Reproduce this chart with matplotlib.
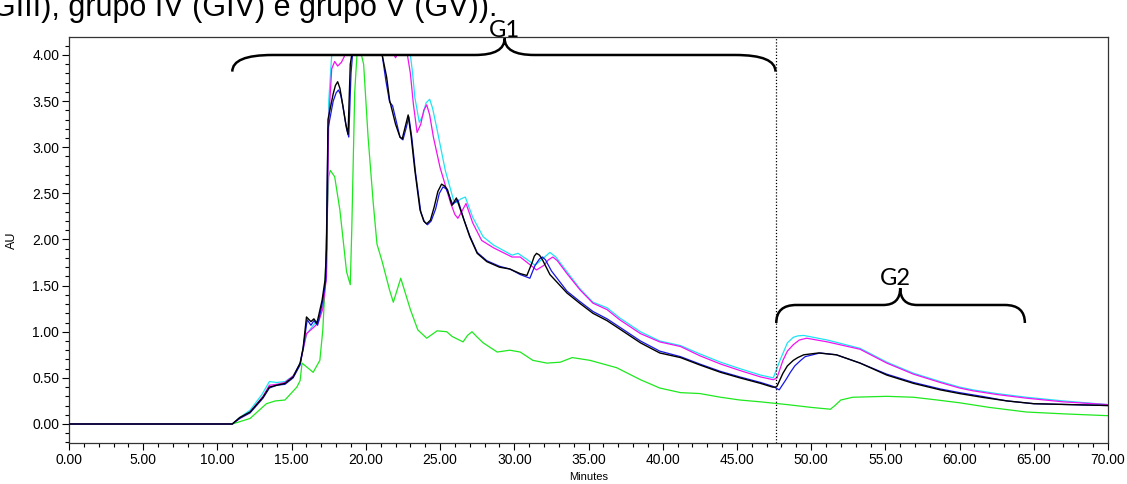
#!/usr/bin/env python3

# Import special modules ...
import matplotlib
matplotlib.use("Agg")
import matplotlib.pyplot
import matplotlib.path
import matplotlib.patches
import matplotlib.ticker
import numpy

# ******************************************************************************

t_black = [0.0, 11.0, 11.5, 12.2, 13.07, 13.5, 14.0, 14.55, 15.1, 15.57, 15.77, 16.0, 16.3, 16.5, 16.7, 17.05, 17.25, 17.35, 17.45, 17.8, 17.95, 18.1, 18.25, 18.4, 18.65, 18.8, 18.95, 19.05, 21.1, 21.4, 21.6, 22.0, 22.3, 22.45, 22.65, 22.85, 23.05, 23.3, 23.65, 23.9, 24.1, 24.35, 24.6, 24.85, 25.1, 25.3, 25.5, 25.8, 26.1, 26.55, 27.0, 27.5, 28.15, 29.0, 29.7, 30.4, 30.85, 31.2, 31.35, 31.5, 31.7, 31.9, 32.4, 33.55, 34.4, 35.3, 36.25, 37.1, 38.5, 39.8, 41.2, 42.5, 43.9, 45.2, 46.6, 47.4, 47.6, 47.7, 48.1, 48.4, 48.8, 49.1, 49.5, 50.5, 51.7, 53.3, 55.1, 56.9, 58.7, 60.0, 61.5, 63.2, 65.0, 67.5, 70.0]
au_black = [0.0, 0.0, 0.07, 0.13, 0.29, 0.40, 0.42, 0.44, 0.51, 0.66, 0.82, 1.16, 1.11, 1.14, 1.09, 1.34, 1.56, 1.9, 3.3, 3.58, 3.67, 3.71, 3.64, 3.5, 3.25, 3.14, 3.9, 4.0, 4.0, 3.76, 3.51, 3.25, 3.11, 3.09, 3.22, 3.35, 3.12, 2.75, 2.32, 2.2, 2.17, 2.21, 2.35, 2.52, 2.60, 2.58, 2.54, 2.37, 2.45, 2.24, 2.03, 1.85, 1.76, 1.70, 1.68, 1.63, 1.61, 1.75, 1.82, 1.85, 1.83, 1.78, 1.62, 1.42, 1.31, 1.20, 1.12, 1.03, 0.88, 0.77, 0.72, 0.64, 0.56, 0.50, 0.44, 0.40, 0.40, 0.41, 0.55, 0.63, 0.69, 0.72, 0.75, 0.77, 0.75, 0.66, 0.53, 0.44, 0.37, 0.33, 0.29, 0.25, 0.22, 0.21, 0.20]

t_blue = [0.0, 11.0, 11.5, 12.2, 13.07, 13.5, 14.0, 14.55, 15.1, 15.57, 15.8, 16.05, 16.3, 16.5, 16.75, 17.05, 17.3, 17.45, 17.8, 18.0, 18.15, 18.3, 18.45, 18.7, 18.85, 19.0, 19.1, 21.1, 21.35, 21.6, 21.8, 22.3, 22.5, 22.7, 22.9, 23.1, 23.35, 23.7, 23.95, 24.15, 24.4, 24.7, 24.95, 25.2, 25.4, 25.55, 25.85, 26.2, 26.6, 27.0, 27.5, 28.15, 29.0, 29.7, 30.4, 31.05, 31.4, 31.7, 31.9, 32.1, 32.5, 33.55, 34.4, 35.3, 36.25, 37.1, 38.5, 39.8, 41.2, 42.5, 43.9, 45.2, 46.6, 47.4, 47.85, 48.3, 48.6, 48.9, 49.3, 49.6, 50.6, 51.7, 53.3, 55.1, 56.9, 58.7, 60.0, 61.5, 63.2, 65.0, 67.5, 70.0]
au_blue = [0.0, 0.0, 0.06, 0.12, 0.28, 0.39, 0.42, 0.43, 0.50, 0.64, 0.85, 1.13, 1.07, 1.12, 1.07, 1.30, 1.55, 3.2, 3.5, 3.59, 3.62, 3.57, 3.45, 3.2, 3.11, 3.8, 4.0, 4.0, 3.72, 3.49, 3.45, 3.11, 3.08, 3.2, 3.33, 3.1, 2.72, 2.30, 2.19, 2.16, 2.2, 2.33, 2.5, 2.57, 2.55, 2.50, 2.38, 2.43, 2.22, 2.04, 1.86, 1.77, 1.71, 1.68, 1.62, 1.58, 1.72, 1.79, 1.81, 1.78, 1.66, 1.44, 1.33, 1.22, 1.14, 1.05, 0.90, 0.79, 0.73, 0.65, 0.57, 0.51, 0.45, 0.41, 0.37, 0.48, 0.56, 0.63, 0.69, 0.73, 0.77, 0.75, 0.66, 0.54, 0.45, 0.38, 0.34, 0.30, 0.25, 0.22, 0.21, 0.20]

t_magenta = [0.0, 11.0, 11.5, 12.2, 13.07, 13.5, 14.0, 14.55, 15.1, 15.57, 16.0, 16.5, 16.8, 17.1, 17.35, 17.5, 17.7, 17.9, 18.1, 18.35, 18.6, 21.9, 22.0, 22.1, 22.8, 23.0, 23.2, 23.45, 23.7, 23.9, 24.1, 24.3, 24.55, 25.0, 25.7, 26.0, 26.2, 26.45, 26.75, 27.2, 27.8, 28.6, 29.85, 30.4, 30.95, 31.5, 32.0, 32.3, 32.6, 32.9, 33.55, 34.45, 35.3, 36.25, 37.1, 38.5, 39.8, 41.2, 42.5, 43.9, 45.2, 46.6, 47.45, 47.7, 48.1, 48.4, 48.8, 49.2, 49.7, 51.1, 53.3, 55.1, 56.9, 58.7, 60.0, 60.9, 62.5, 64.5, 67.0, 70.0]
au_magenta = [0.0, 0.0, 0.06, 0.13, 0.30, 0.42, 0.43, 0.45, 0.52, 0.65, 0.98, 1.05, 1.10, 1.25, 1.6, 3.3, 3.85, 3.93, 3.88, 3.92, 4.0, 4.0, 3.97, 4.0, 4.0, 3.8, 3.47, 3.16, 3.25, 3.4, 3.46, 3.35, 3.11, 2.78, 2.40, 2.27, 2.23, 2.3, 2.39, 2.18, 1.99, 1.91, 1.81, 1.81, 1.74, 1.67, 1.72, 1.78, 1.81, 1.77, 1.63, 1.45, 1.31, 1.24, 1.13, 0.98, 0.89, 0.84, 0.74, 0.65, 0.58, 0.51, 0.48, 0.50, 0.69, 0.79, 0.86, 0.91, 0.93, 0.89, 0.81, 0.66, 0.54, 0.45, 0.39, 0.36, 0.32, 0.28, 0.24, 0.21]

t_cyan = [0.0, 11.0, 11.5, 12.2, 13.0, 13.5, 14.0, 14.55, 15.1, 15.57, 16.0, 16.5, 16.8, 17.1, 17.35, 17.5, 17.7, 23.0, 23.15, 23.3, 23.6, 23.85, 24.05, 24.3, 24.5, 24.8, 25.35, 25.9, 26.1, 26.4, 26.7, 27.2, 27.9, 28.6, 29.85, 30.25, 30.8, 31.4, 31.9, 32.4, 32.8, 33.55, 34.4, 35.3, 36.25, 37.1, 38.5, 39.8, 41.2, 42.5, 43.9, 45.2, 46.6, 47.45, 47.9, 48.4, 48.8, 49.1, 49.5, 51.1, 53.3, 55.1, 56.9, 58.7, 60.0, 60.9, 62.5, 64.5, 67.0, 70.0]
au_cyan = [0.0, 0.0, 0.07, 0.15, 0.32, 0.46, 0.45, 0.46, 0.52, 0.66, 0.97, 1.08, 1.13, 1.28, 1.7, 3.5, 4.0, 4.0, 3.8, 3.54, 3.27, 3.35, 3.48, 3.52, 3.42, 3.19, 2.75, 2.43, 2.40, 2.44, 2.46, 2.24, 2.03, 1.94, 1.83, 1.85, 1.79, 1.72, 1.79, 1.86, 1.81, 1.65, 1.47, 1.32, 1.26, 1.15, 1.00, 0.90, 0.85, 0.76, 0.67, 0.60, 0.53, 0.50, 0.69, 0.88, 0.94, 0.955, 0.96, 0.91, 0.82, 0.67, 0.55, 0.46, 0.40, 0.37, 0.33, 0.29, 0.25, 0.21]

t_green = [0.0, 11.0, 12.2, 13.3, 13.9, 14.55, 15.35, 15.57, 15.7, 16.0, 16.45, 16.9, 17.1, 17.25, 17.4, 17.5, 17.6, 17.9, 18.25, 18.5, 18.7, 18.95, 19.05, 19.25, 19.4, 19.7, 19.85, 20.15, 20.5, 20.75, 21.1, 21.6, 21.85, 22.1, 22.35, 22.6, 23.0, 23.5, 24.1, 24.8, 25.45, 25.8, 26.55, 26.85, 27.15, 27.45, 27.9, 28.85, 29.7, 30.4, 31.25, 32.2, 33.1, 33.9, 35.1, 36.9, 38.5, 39.8, 41.2, 42.5, 43.9, 45.2, 46.6, 48.4, 50.0, 51.3, 51.6, 52.0, 52.8, 55.1, 56.9, 58.5, 60.0, 62.0, 64.5, 67.0, 70.0]
au_green = [0.0, 0.0, 0.06, 0.22, 0.25, 0.26, 0.40, 0.47, 0.66, 0.62, 0.56, 0.69, 1.02, 1.5, 2.3, 2.68, 2.75, 2.68, 2.32, 1.95, 1.65, 1.51, 2.1, 3.6, 4.0, 4.0, 3.9, 3.11, 2.39, 1.95, 1.76, 1.45, 1.32, 1.45, 1.58, 1.45, 1.24, 1.02, 0.93, 1.01, 1.0, 0.95, 0.89, 0.96, 1.0, 0.95, 0.88, 0.78, 0.80, 0.78, 0.69, 0.66, 0.67, 0.72, 0.69, 0.61, 0.48, 0.39, 0.34, 0.33, 0.29, 0.26, 0.24, 0.21, 0.18, 0.16, 0.2, 0.26, 0.29, 0.30, 0.29, 0.26, 0.23, 0.18, 0.13, 0.11, 0.09]

# Group boundaries [min] ...
g1_range = (11.0, 47.6, 29.35)
g2_range = (47.65, 64.4, 56.0)
split_time = 47.65

# ******************************************************************************

def draw_brace(ax, x0, x1, xm, yend, yline, ytip, rx_end, rx_tip):
    # Build a curly brace out of quadratic Bezier segments ...
    verts = [
        (x0, yend), (x0, yline), (x0 + rx_end, yline),
        (xm - rx_tip, yline),
        (xm, yline), (xm, ytip),
        (xm, yline), (xm + rx_tip, yline),
        (x1 - rx_end, yline),
        (x1, yline), (x1, yend),
    ]
    P = matplotlib.path.Path
    codes = [P.MOVETO, P.CURVE3, P.CURVE3, P.LINETO, P.CURVE3, P.CURVE3, P.CURVE3, P.CURVE3, P.LINETO, P.CURVE3, P.CURVE3]
    patch = matplotlib.patches.PathPatch(P(verts, codes), facecolor = "none", edgecolor = "black", linewidth = 1.8, clip_on = False, zorder = 6)
    ax.add_patch(patch)

# ******************************************************************************

# Configure matplotlib ...
matplotlib.pyplot.rcParams.update({"font.family" : ["Liberation Sans", "DejaVu Sans"], "font.size" : 10})

# Create plot ...
fg = matplotlib.pyplot.figure(figsize = (11.27, 4.84), dpi = 100)
ax = fg.add_axes([69.0 / 1127.0, 1.0 - 443.0 / 484.0, (1108.0 - 69.0) / 1127.0, (443.0 - 37.0) / 484.0])

# Plot traces ...
ax.plot(t_green, au_green, color = "#1ee81e", linewidth = 0.9, zorder = 2)
ax.plot(t_cyan, au_cyan, color = "#1ee4f4", linewidth = 0.9, zorder = 3)
ax.plot(t_magenta, au_magenta, color = "#f012f0", linewidth = 0.9, zorder = 3)
ax.plot(t_blue, au_blue, color = "#1616e6", linewidth = 0.9, zorder = 4)
ax.plot(t_black, au_black, color = "black", linewidth = 1.0, zorder = 5)

# Add divider ...
ax.axvline(split_time, color = "black", linestyle = (0, (1, 1.5)), linewidth = 0.9, zorder = 5)

# Configure axes ...
ax.set_xlim(0.0, 70.0)
ax.set_ylim(-0.206, 4.195)
ax.set_xticks(numpy.arange(0.0, 70.1, 5.0))
ax.set_xticks(numpy.arange(0.0, 70.1, 1.0), minor = True)
ax.set_yticks(numpy.arange(0.0, 4.01, 0.5))
ax.set_yticks(numpy.arange(-0.2, 4.15, 0.1), minor = True)
ax.xaxis.set_major_formatter(matplotlib.ticker.FormatStrFormatter("%.2f"))
ax.yaxis.set_major_formatter(matplotlib.ticker.FormatStrFormatter("%.2f"))
ax.tick_params(axis = "both", which = "major", length = 5, width = 0.8, direction = "out", labelsize = 10, pad = 2)
ax.tick_params(axis = "both", which = "minor", length = 3, width = 0.8, direction = "out")
for sp in ax.spines.values():
    sp.set_linewidth(0.9)
    sp.set_color("#333333")
ax.set_xlabel("Minutes", fontsize = 8, labelpad = 4)
ax.set_ylabel("AU", fontsize = 9, labelpad = 10)

# Add group braces and labels ...
draw_brace(ax, g1_range[0], g1_range[1], g1_range[2], 3.82, 4.0, 4.18, 2.7, 2.0)
draw_brace(ax, g2_range[0], g2_range[1], g2_range[2], 1.095, 1.29, 1.474, 1.35, 1.15)
ax.text(g1_range[2], 4.195, "G1", ha = "center", va = "baseline", fontsize = 17, family = ["Lato", "DejaVu Sans"], clip_on = False, zorder = 7)
ax.text(g2_range[2] - 0.3, 1.51, "G2", ha = "center", va = "baseline", fontsize = 17, family = ["Lato", "DejaVu Sans"], clip_on = False, zorder = 7)

# Add cropped caption line from the source document ...
fg.text(-0.007, 1.0 - 16.0 / 484.0, "GIII), grupo IV (GIV) e grupo V (GV)).", ha = "left", va = "baseline", fontsize = 22)

# Save plot ...
fg.savefig("out.png", dpi = 100)
matplotlib.pyplot.close(fg)
